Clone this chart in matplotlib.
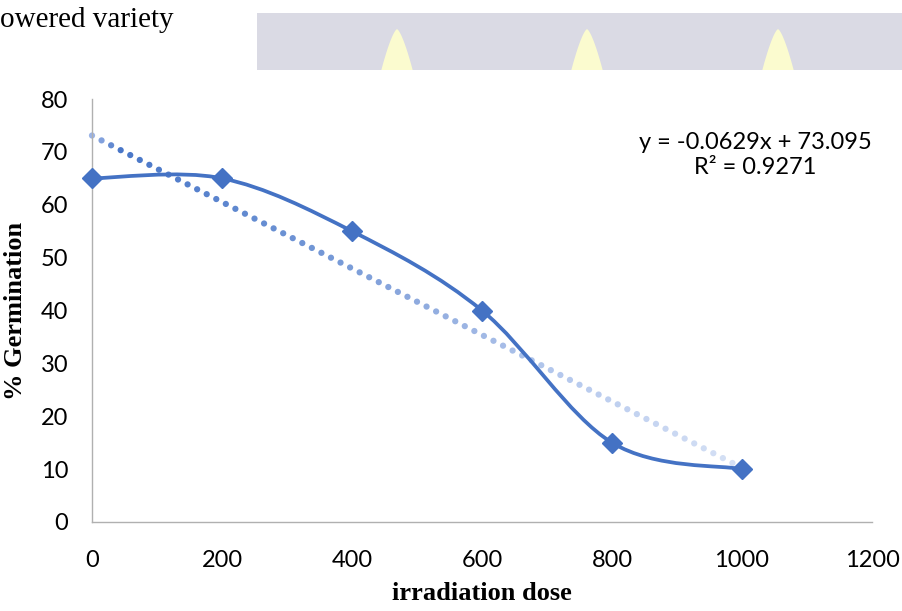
import numpy as np
import matplotlib
matplotlib.use("Agg")
import matplotlib.pyplot as plt
from matplotlib.path import Path
from matplotlib.patches import PathPatch, Rectangle, Polygon
from matplotlib.colors import LinearSegmentedColormap

# ---- data ----
dose = [0, 200, 400, 600, 800, 1000]
germination = [65, 65, 55, 40, 15, 10]
x_ticks = [0, 200, 400, 600, 800, 1000, 1200]
y_ticks = [0, 10, 20, 30, 40, 50, 60, 70, 80]
x_label = "irradiation dose"
y_label = "% Germination"
eq_text = "y = -0.0629x + 73.095\nR² = 0.9271"
header_text = "owered variety"

BLUE = "#4472C4"

fig = plt.figure(figsize=(9.03, 6.11), dpi=100)
ax = fig.add_axes([92/903, (611-522)/611, (872-92)/903, (522-99)/611])

# smoothed line (Excel-like Catmull-Rom bezier)
px = np.array(dose, float)
py = np.array(germination, float)
P = np.column_stack([px, py])
Pext = np.vstack([P[0], P, P[-1]])
verts = [tuple(P[0])]
codes = [Path.MOVETO]
for i in range(len(P) - 1):
    p0, p1, p2, p3 = Pext[i], Pext[i+1], Pext[i+2], Pext[i+3]
    c1 = p1 + (p2 - p0) / 6.0
    c2 = p2 - (p3 - p1) / 6.0
    verts += [tuple(c1), tuple(c2), tuple(p2)]
    codes += [Path.CURVE4] * 3
ax.add_patch(PathPatch(Path(verts, codes), facecolor="none", edgecolor=BLUE,
                       lw=2.7, capstyle="round", joinstyle="round", zorder=3,
                       clip_on=False))
ax.plot(dose, germination, linestyle="none", marker="D", markersize=10,
        color=BLUE, zorder=4, clip_on=False)

# linear trendline, dotted with fading colour
slope, intercept = np.polyfit(px, py, 1)
tx = np.linspace(min(dose), max(dose), 69)
ty = slope * tx + intercept
cmap = LinearSegmentedColormap.from_list("fade", [
    (0.0, "#9ab3e6"), (0.04, "#4a77c8"), (0.15, "#5580cc"), (0.35, "#7397d6"),
    (0.5, "#8eaade"), (0.7, "#b2c6ec"), (1.0, "#d6e1f5")])
ax.scatter(tx, ty, s=20, c=cmap(np.linspace(0, 1, len(tx))), linewidths=0,
           zorder=2, clip_on=False)

ax.set_xlim(0, 1200)
ax.set_ylim(0, 80)
ax.set_xticks(x_ticks)
ax.set_yticks(y_ticks)
for s in ["top", "right"]:
    ax.spines[s].set_visible(False)
for s in ["left", "bottom"]:
    ax.spines[s].set_color("#b0b0b0")
    ax.spines[s].set_linewidth(1.0)
ax.tick_params(length=0, labelsize=17, colors="black")
ax.tick_params(axis="y", pad=17)
ax.tick_params(axis="x", pad=20)
for lab in ax.get_xticklabels() + ax.get_yticklabels():
    lab.set_family("Lato")

ax.set_xlabel(x_label, family="Liberation Serif", fontweight="bold", fontsize=19, labelpad=8)
ax.set_ylabel(y_label, family="Liberation Serif", fontweight="bold", fontsize=19, labelpad=10)

ax.text(0.85, 0.868, eq_text, transform=ax.transAxes, ha="center", va="center",
        fontsize=17, family="Lato", linespacing=1.25)

# header decorations
fig.text(0.0, 1 - 20/611, header_text, family="Liberation Serif", fontsize=21,
         ha="left", va="center")
fig.patches.append(Rectangle((257/903, 1 - 70/611), (903-257)/903, 57/611,
                             transform=fig.transFigure, facecolor="#dadae4",
                             edgecolor="none", zorder=0))
for cx in [397, 587, 778]:
    ts = np.linspace(0, 0.82, 30)
    right = [(cx + 18 * t ** 0.7, 29 + 50 * t) for t in ts]
    left = [(2 * cx - p[0], p[1]) for p in reversed(right)]
    shape = [(p[0] / 903, 1 - p[1] / 611) for p in right + left]
    fig.patches.append(Polygon(shape, closed=True, transform=fig.transFigure,
                               facecolor="#fbfbcf", edgecolor="none", zorder=1))

fig.savefig("out.png", dpi=100)
